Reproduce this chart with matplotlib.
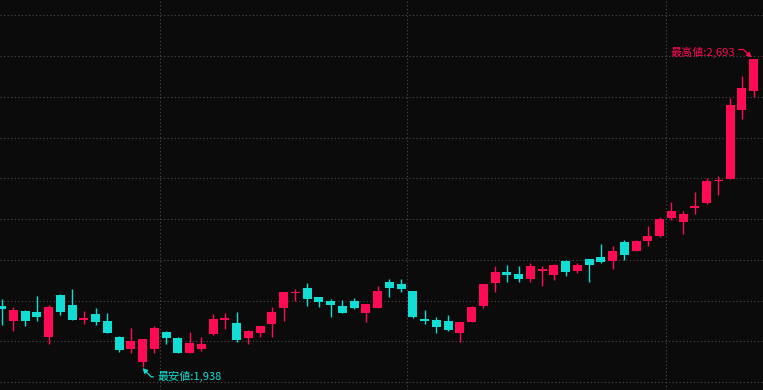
import numpy as np
import matplotlib
matplotlib.use('Agg')
import matplotlib.pyplot as plt

plt.rcParams['font.family'] = ['Noto Sans CJK JP', 'DejaVu Sans']

# daily candles, oldest first
opens = [2087, 2050, 2075, 2072, 2011, 2114, 2090, 2053, 2068, 2050,
         2011, 1982, 1950, 1982, 2023, 2009, 1972, 1982, 2018, 2053,
         2045, 2009, 2021, 2043, 2082, 2119, 2131, 2109, 2099, 2087,
         2099, 2070, 2082, 2146, 2141, 2124, 2055, 2053, 2050, 2021,
         2048, 2087, 2144, 2171, 2166, 2153, 2173, 2163, 2198, 2173,
         2202, 2207, 2198, 2244, 2222, 2246, 2259, 2303, 2293, 2327,
         2340, 2394, 2399, 2568, 2614]
highs = [2104, 2085, 2076, 2112, 2090, 2117, 2129, 2075, 2082, 2070,
         2014, 2033, 2007, 2038, 2026, 2010, 2023, 2011, 2068, 2070,
         2072, 2028, 2039, 2085, 2122, 2129, 2144, 2110, 2104, 2102,
         2107, 2093, 2136, 2153, 2153, 2125, 2077, 2060, 2065, 2049,
         2087, 2142, 2185, 2188, 2185, 2193, 2185, 2190, 2200, 2193,
         2203, 2239, 2234, 2249, 2249, 2283, 2305, 2342, 2320, 2367,
         2401, 2406, 2597, 2651, 2693]
lows = [2041, 2026, 2038, 2050, 1994, 2065, 2052, 2043, 2041, 2020,
        1974, 1972, 1938, 1972, 1994, 1971, 1971, 1977, 2016, 2031,
        1999, 1994, 2011, 2011, 2050, 2099, 2087, 2085, 2060, 2069,
        2080, 2048, 2081, 2109, 2121, 2058, 2043, 2021, 2026, 1999,
        2047, 2082, 2121, 2146, 2146, 2146, 2136, 2151, 2161, 2168,
        2146, 2193, 2178, 2200, 2221, 2234, 2256, 2298, 2264, 2313,
        2337, 2359, 2398, 2546, 2600]
closes = [2080, 2077, 2050, 2060, 2085, 2072, 2053, 2058, 2048, 2021,
          1979, 2001, 2006, 2033, 2009, 1972, 1996, 1994, 2055, 2058,
          2004, 2026, 2038, 2072, 2121, 2121, 2104, 2097, 2090, 2070,
          2082, 2092, 2124, 2131, 2129, 2060, 2050, 2036, 2028, 2048,
          2085, 2141, 2171, 2163, 2153, 2185, 2178, 2188, 2171, 2188,
          2188, 2195, 2222, 2212, 2246, 2259, 2300, 2320, 2313, 2332,
          2394, 2396, 2580, 2622, 2692]

# month boundaries (between candles)
month_breaks = [13.5, 34.5, 56.5]
price_grid = np.arange(1900, 2801, 100)

up_color = '#ff0a55'
down_color = '#12ddd4'
bg = '#0b0b0b'

o = np.array(opens)
h = np.array(highs)
l = np.array(lows)
c = np.array(closes)
x = np.arange(len(o))
colors = np.where(c >= o, up_color, down_color)

fig = plt.figure(figsize=(7.63, 3.90), dpi=100, facecolor=bg)
ax = fig.add_axes([0, 0, 1, 1])
ax.set_facecolor(bg)

for yv in price_grid:
    ax.axhline(yv, color='#4c4c4c', linestyle=(0, (1, 2.2)), linewidth=0.8, zorder=0)
for xv in month_breaks:
    ax.axvline(xv, color='#4c4c4c', linestyle=(0, (1, 2.2)), linewidth=0.8, zorder=0)

ax.vlines(x, l, h, colors=colors, linewidth=1.0, zorder=2)
body_low = np.minimum(o, c)
body_h = np.maximum(np.abs(c - o), 1.5)
ax.bar(x, body_h, bottom=body_low, width=0.77, color=colors, linewidth=0, zorder=3)

# lowest / highest markers
i_lo = int(np.argmin(l))
i_hi = int(np.argmax(h))
arrow = '-|>,head_length=0.35,head_width=0.18'
ax.annotate(f'最安値:{l[i_lo]:,}', xy=(x[i_lo] - 0.1, l[i_lo] - 1),
            xytext=(11.5, -7), textcoords='offset points',
            ha='left', va='center', color=down_color, fontsize=8,
            arrowprops=dict(arrowstyle=arrow, color=down_color, linewidth=0.9,
                            connectionstyle='angle,angleA=0,angleB=-45,rad=0',
                            shrinkA=1, shrinkB=1))
ax.annotate(f'最高値:{h[i_hi]:,}', xy=(x[i_hi] - 0.1, h[i_hi] + 1),
            xytext=(-13, 4.5), textcoords='offset points',
            ha='right', va='center', color=up_color, fontsize=8,
            arrowprops=dict(arrowstyle=arrow, color=up_color, linewidth=0.9,
                            connectionstyle='angle,angleA=0,angleB=-45,rad=0',
                            shrinkA=1, shrinkB=1,
                            relpos=(1.0, 0.75)))

ax.set_xlim(-0.145, 64.79)
ax.set_ylim(1881, 2837.5)
ax.set_xticks([])
ax.set_yticks([])
for s in ax.spines.values():
    s.set_visible(False)

fig.savefig('out.png', dpi=100, facecolor=bg)
